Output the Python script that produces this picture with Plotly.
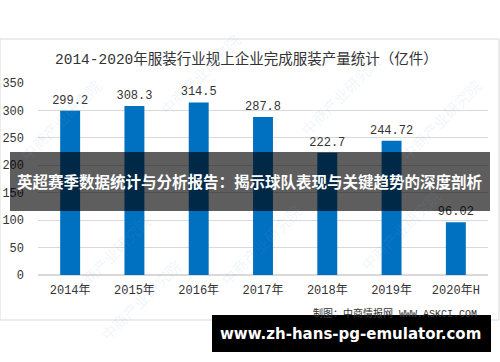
import plotly.graph_objects as go

categories = ["2014年", "2015年", "2016年", "2017年", "2018年", "2019年", "2020年H"]
values = [299.2, 308.3, 314.5, 287.8, 222.7, 244.72, 96.02]
value_labels = ["299.2", "308.3", "314.5", "287.8", "222.7", "244.72", "96.02"]
y_ticks = [0, 50, 100, 150, 200, 250, 300, 350]

title_text = "2014-2020年服装行业规上企业完成服装产量统计（亿件）"
banner_text = "英超赛季数据统计与分析报告：揭示球队表现与关键趋势的深度剖析"
source_text = "制图：中商情报网 WWW.ASKCI.COM"
url_text = "www.zh-hans-pg-emulator.com"
watermark_text = "中商产业研究院"

chart_font = "Liberation Mono, Noto Sans CJK SC, monospace"

fig = go.Figure()
fig.add_trace(go.Bar(
    x=categories, y=values,
    marker=dict(color="#0070C0", line=dict(width=0)),
    text=value_labels, textposition="outside", cliponaxis=False,
    constraintext="none",
    textfont=dict(size=12, color="#333333", family=chart_font),
    width=0.31,
))

shapes = [
    dict(type="rect", xref="paper", yref="paper", x0=-38/450, x1=(499-38)/450,
         y0=(275-320)/192, y1=(275-39)/192, line=dict(color="#d9d9d9", width=1),
         fillcolor="rgba(0,0,0,0)", layer="below"),
]

annotations = [
    dict(text=title_text, xref="paper", yref="paper", x=(246-38)/450, y=(275-59)/192,
         showarrow=False, font=dict(size=14.5, color="#333333", family=chart_font),
         xanchor="center", yanchor="middle"),
    dict(text=source_text, xref="paper", yref="paper", x=(479-38)/450, y=(275-313)/192,
         showarrow=False, font=dict(size=10, color="#333333", family=chart_font),
         xanchor="right", yanchor="middle"),
]

wm_positions = [(60, 120), (200, 75), (340, 95), (110, 255), (260, 245), (400, 230), (140, 300), (440, 120)]
for (wx, wy) in wm_positions:
    annotations.append(dict(text=watermark_text, xref="paper", yref="paper",
                            x=(wx-38)/450, y=(275-wy)/192, showarrow=False, textangle=-45,
                            font=dict(size=15, color="rgba(120,170,220,0.13)", family="Noto Sans CJK SC"),
                            xanchor="center", yanchor="middle"))

shapes.append(dict(type="rect", xref="paper", yref="paper", x0=(10-38)/450, x1=(490-38)/450,
                   y0=(275-211)/192, y1=(275-152)/192, line=dict(width=0),
                   fillcolor="rgba(0,0,0,0.63)", layer="above"))
annotations.append(dict(text="<b>" + banner_text + "</b>", xref="paper", yref="paper",
                        x=(250-38)/450, y=(275-181)/192, showarrow=False,
                        font=dict(size=15.5, color="white", family="Noto Sans CJK SC"),
                        xanchor="center", yanchor="middle"))
shapes.append(dict(type="rect", xref="paper", yref="paper", x0=(212-38)/450, x1=(491-38)/450,
                   y0=(275-352)/192, y1=(275-315)/192, line=dict(width=0),
                   fillcolor="black", layer="above"))
annotations.append(dict(text="<b>" + url_text + "</b>", xref="paper", yref="paper",
                        x=(350-38)/450, y=(275-334)/192, showarrow=False,
                        font=dict(size=15, color="white", family="DejaVu Sans"),
                        xanchor="center", yanchor="middle"))

fig.update_layout(
    width=500, height=362,
    margin=dict(l=38, r=12, t=83, b=87, autoexpand=False),
    paper_bgcolor="white", plot_bgcolor="white",
    showlegend=False,
    shapes=shapes, annotations=annotations,
    xaxis=dict(showgrid=False, showline=False, zeroline=False, ticks="", automargin=False,
               tickfont=dict(size=12, color="#333333", family=chart_font),
               ticklabelstandoff=6),
    yaxis=dict(range=[0, 350], tickvals=y_ticks, showgrid=True, gridcolor="#d9d9d9",
               gridwidth=1, zeroline=True, zerolinecolor="#d9d9d9", showline=False,
               automargin=False,
               tickfont=dict(size=12, color="#333333", family=chart_font),
               ticklabelstandoff=13),
)

fig.write_html("out.html")
